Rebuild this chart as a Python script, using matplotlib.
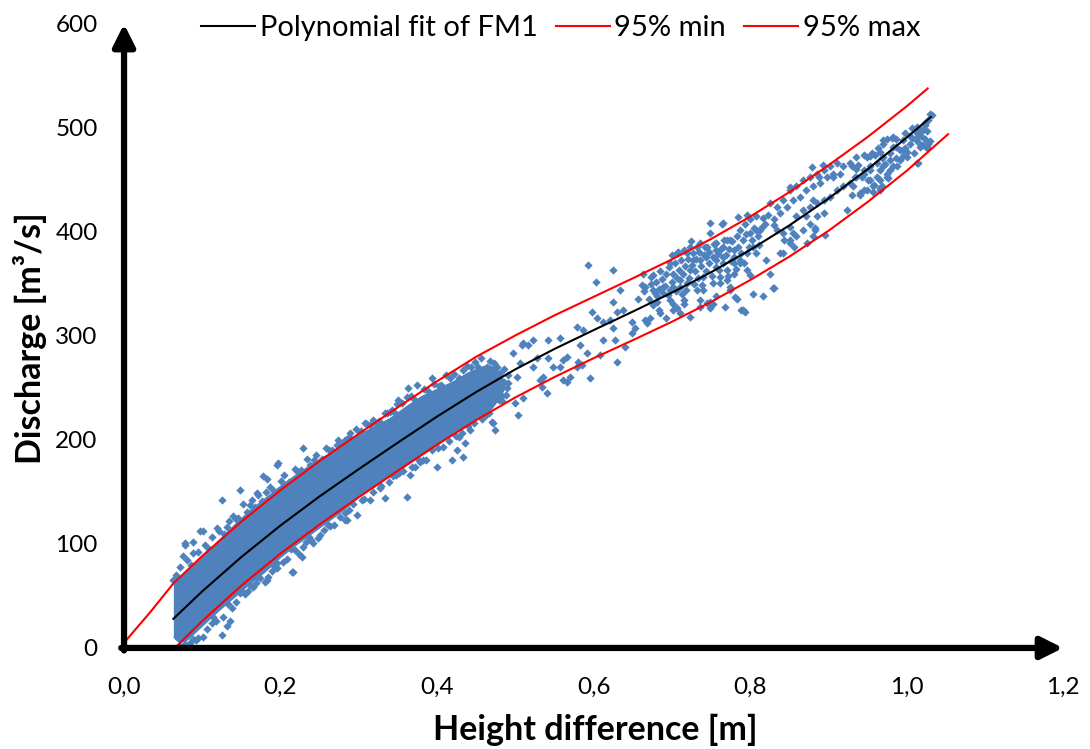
import numpy as np
import matplotlib
matplotlib.use("Agg")
import matplotlib.pyplot as plt

plt.rcParams['font.family'] = ['Lato', 'DejaVu Sans']

# axis ticks
x_ticks = [0.0, 0.2, 0.4, 0.6, 0.8, 1.0, 1.2]
x_tick_labels = ['0,0', '0,2', '0,4', '0,6', '0,8', '1,0', '1,2']
y_ticks = [0, 100, 200, 300, 400, 500, 600]

# polynomial fit of FM1
fit_x = [0.063, 0.10, 0.15, 0.20, 0.25, 0.30, 0.35, 0.40, 0.45, 0.50, 0.55,
         0.60, 0.65, 0.70, 0.75, 0.80, 0.85, 0.90, 0.95, 1.00, 1.031]
fit_y = [28, 54.5, 87.5, 117.8, 145.8, 172, 197.5, 222.5, 246.1, 267.9, 287.5,
         305.6, 323.4, 341.6, 361.2, 382.7, 406.2, 432, 460.2, 490.7, 510.5]

# 95% max band
max_x = [0.0, 0.033, 0.063, 0.10, 0.15, 0.20, 0.25, 0.30, 0.35, 0.40, 0.45, 0.50,
         0.55, 0.60, 0.65, 0.70, 0.75, 0.80, 0.85, 0.90, 0.95, 1.00, 1.027]
max_y = [5, 34, 62, 88.5, 121.5, 151.8, 179.8, 206, 231.5, 256.5, 280, 300.5,
         319.8, 337.6, 355.4, 373.6, 393.2, 414.7, 438.2, 464, 491.2, 520.7, 538]

# 95% min band
min_x = [0.065, 0.10, 0.15, 0.20, 0.25, 0.30, 0.35, 0.40, 0.45, 0.50, 0.55,
         0.60, 0.65, 0.70, 0.75, 0.80, 0.85, 0.90, 0.95, 1.00, 1.053]
min_y = [0, 26, 60, 90.8, 118.8, 145, 170.5, 195.5, 219.1, 240.9, 260.5,
         278.6, 295.9, 313.6, 332.7, 353.7, 376.2, 401, 428.7, 458.7, 494]

# saturated part of the low-flow FM1 cloud (x, lower edge, upper edge)
core_x = [0.063, 0.07, 0.08, 0.09, 0.10, 0.12, 0.14, 0.16, 0.18, 0.20, 0.22, 0.24, 0.26,
          0.28, 0.30, 0.32, 0.34, 0.36, 0.38, 0.40, 0.42, 0.44, 0.46, 0.47, 0.48, 0.487]
core_lo = [10, 5, 7, 14, 21, 35, 48, 61, 73, 87, 99, 110, 121,
           132, 145, 155, 165, 175, 185, 195, 205, 214, 224, 230, 240, 250]
core_hi = [62, 67, 75, 82, 89, 104, 119, 133, 145, 157, 168, 178, 187,
           197, 206, 214, 222, 233, 243, 250, 257, 266, 272, 272, 265, 256]

# individual FM1 measurements around the low-flow cloud
edge_pts = [
    (0.063, 65), (0.075, 88), (0.078, 99), (0.078, 101), (0.088, 91), (0.088, 102),
    (0.097, 112), (0.101, 112), (0.119, 115), (0.125, 142), (0.148, 152), (0.167, 136),
    (0.170, 149), (0.178, 165), (0.183, 162), (0.195, 176), (0.197, 178), (0.229, 192),
    (0.272, 195), (0.289, 207), (0.308, 216), (0.314, 214), (0.336, 226), (0.340, 227),
    (0.349, 235), (0.350, 238), (0.361, 241), (0.363, 250), (0.374, 253), (0.393, 260),
    (0.417, 260), (0.433, 267), (0.449, 275), (0.464, 270), (0.477, 270), (0.481, 264),
    (0.068, 11), (0.084, 5), (0.092, 8), (0.101, 11), (0.125, 12), (0.132, 21),
    (0.136, 26), (0.148, 53), (0.161, 61), (0.165, 59), (0.180, 63), (0.183, 65),
    (0.184, 68), (0.195, 77), (0.203, 83), (0.214, 73), (0.216, 73), (0.227, 87),
    (0.229, 97), (0.242, 101), (0.250, 109), (0.263, 117), (0.282, 123), (0.285, 123),
    (0.298, 128), (0.314, 142), (0.334, 144), (0.344, 165), (0.362, 145), (0.366, 166),
    (0.372, 174), (0.378, 179), (0.382, 181), (0.400, 174), (0.419, 181), (0.426, 190),
    (0.433, 184), (0.436, 197), (0.432, 207), (0.451, 224), (0.470, 217), (0.472, 216),
    (0.474, 210), (0.477, 251), (0.483, 237),
    (0.066, 70), (0.072, 78), (0.081, 85), (0.086, 80), (0.094, 92), (0.104, 99),
    (0.108, 95), (0.113, 107), (0.121, 112), (0.128, 110), (0.134, 122), (0.139, 127),
    (0.146, 125), (0.152, 138), (0.157, 131), (0.163, 142), (0.171, 147), (0.176, 141),
    (0.186, 155), (0.192, 151), (0.205, 166), (0.211, 160), (0.218, 172), (0.226, 171),
    (0.234, 182), (0.238, 176), (0.245, 186), (0.253, 182), (0.258, 192), (0.266, 190),
    (0.274, 200), (0.279, 196), (0.287, 203), (0.296, 211), (0.303, 209), (0.311, 215),
    (0.318, 219), (0.326, 218), (0.333, 226), (0.342, 229), (0.355, 236), (0.367, 242),
    (0.383, 249), (0.396, 254), (0.405, 253), (0.412, 262), (0.422, 263), (0.438, 271),
    (0.444, 270), (0.456, 279), (0.468, 276), (0.486, 268),
    (0.071, 2), (0.078, 4), (0.088, 9), (0.095, 10), (0.106, 18), (0.112, 24),
    (0.118, 26), (0.127, 30), (0.138, 38), (0.143, 44), (0.154, 52), (0.158, 55),
    (0.168, 62), (0.174, 67), (0.189, 74), (0.196, 82), (0.208, 86), (0.219, 94),
    (0.224, 90), (0.232, 102), (0.239, 104), (0.248, 106), (0.256, 113), (0.268, 118),
    (0.276, 126), (0.288, 133), (0.293, 138), (0.307, 143), (0.318, 150), (0.327, 154),
    (0.338, 160), (0.347, 166), (0.357, 170), (0.368, 174), (0.386, 181), (0.394, 190),
    (0.408, 193), (0.415, 199), (0.428, 203), (0.442, 210), (0.447, 216), (0.458, 220),
    (0.466, 226), (0.479, 238), (0.488, 243),
    (0.131, 116), (0.143, 124), (0.161, 137), (0.181, 150), (0.201, 161), (0.221, 170),
    (0.243, 181), (0.262, 190), (0.283, 200), (0.301, 208), (0.322, 216), (0.346, 226),
    (0.371, 239), (0.389, 247), (0.402, 252), (0.428, 260), (0.452, 270), (0.473, 274),
    (0.491, 262), (0.490, 250), (0.486, 256), (0.114, 30), (0.133, 42), (0.151, 55),
    (0.171, 68), (0.191, 79), (0.213, 95), (0.236, 107), (0.261, 118), (0.283, 130),
    (0.304, 142), (0.329, 156), (0.352, 168), (0.377, 181), (0.401, 192), (0.424, 204),
    (0.439, 213), (0.462, 224), (0.483, 242),
]

# sparse measurements between the two clouds
mid_pts = [
    (0.491, 255), (0.497, 284), (0.500, 236), (0.502, 261), (0.504, 224), (0.506, 274),
    (0.509, 291), (0.510, 240), (0.510, 293), (0.516, 291), (0.523, 270), (0.523, 296),
    (0.528, 279), (0.532, 258), (0.534, 251), (0.536, 261), (0.541, 245), (0.542, 279),
    (0.542, 296), (0.548, 270), (0.557, 270), (0.557, 298), (0.561, 258), (0.561, 277),
    (0.566, 256), (0.566, 280), (0.570, 261), (0.579, 270), (0.579, 309), (0.580, 275),
    (0.583, 291), (0.585, 272), (0.587, 306), (0.592, 284), (0.593, 368), (0.596, 260),
    (0.598, 323), (0.603, 352), (0.604, 317), (0.608, 282), (0.612, 296), (0.612, 313),
    (0.621, 315), (0.625, 308), (0.625, 333), (0.625, 363), (0.627, 296), (0.630, 275),
    (0.630, 323), (0.634, 344), (0.638, 325), (0.640, 289), (0.649, 303), (0.649, 313),
    (0.653, 308), (0.657, 336),
]

# high-flow measurements
high_pts = [
    (0.662, 349), (0.663, 360), (0.664, 343), (0.666, 315), (0.666, 347), (0.668, 312),
    (0.672, 317), (0.674, 357), (0.676, 330), (0.676, 344), (0.676, 359), (0.681, 333),
    (0.681, 338), (0.683, 325), (0.685, 322), (0.685, 362), (0.689, 341), (0.689, 347),
    (0.692, 317), (0.698, 335), (0.698, 344), (0.698, 370), (0.700, 378), (0.702, 325),
    (0.702, 331), (0.702, 347), (0.706, 327), (0.706, 380), (0.708, 381), (0.710, 347),
    (0.711, 322), (0.711, 354), (0.715, 331), (0.715, 335), (0.715, 383), (0.719, 351),
    (0.719, 380), (0.723, 318), (0.723, 363), (0.723, 386), (0.725, 391), (0.727, 373),
    (0.732, 344), (0.732, 386), (0.736, 328), (0.736, 335), (0.736, 373), (0.736, 389),
    (0.740, 344), (0.740, 357), (0.744, 376), (0.745, 332), (0.745, 386), (0.749, 327),
    (0.749, 333), (0.749, 399), (0.749, 409), (0.753, 331), (0.753, 351), (0.757, 338),
    (0.757, 373), (0.757, 383), (0.757, 389), (0.762, 351), (0.762, 357), (0.764, 408),
    (0.766, 376), (0.766, 386), (0.766, 409), (0.768, 328), (0.770, 354), (0.770, 363),
    (0.770, 392), (0.774, 344), (0.774, 347), (0.774, 392), (0.779, 360), (0.779, 370),
    (0.779, 383), (0.781, 337), (0.783, 336), (0.783, 396), (0.785, 414), (0.787, 370),
    (0.787, 373), (0.787, 402), (0.789, 325), (0.791, 325), (0.793, 408), (0.794, 323),
    (0.796, 363), (0.796, 380), (0.796, 416), (0.800, 359), (0.800, 399), (0.800, 412),
    (0.804, 340), (0.804, 386), (0.808, 380), (0.808, 402), (0.808, 415), (0.813, 402),
    (0.817, 338), (0.817, 413), (0.819, 408), (0.821, 373), (0.823, 416), (0.825, 428),
    (0.826, 360), (0.829, 346), (0.830, 346), (0.830, 407), (0.830, 412), (0.834, 402),
    (0.834, 424), (0.838, 380), (0.838, 418), (0.842, 380), (0.842, 399), (0.842, 431),
    (0.843, 392), (0.847, 424), (0.851, 389), (0.851, 392), (0.851, 405), (0.851, 440),
    (0.851, 443), (0.855, 399), (0.855, 431), (0.856, 386), (0.859, 396), (0.859, 415),
    (0.859, 444), (0.864, 434), (0.868, 402), (0.868, 421), (0.868, 450), (0.872, 415),
    (0.872, 440), (0.873, 389), (0.877, 408), (0.877, 424), (0.877, 453), (0.879, 462),
    (0.881, 396), (0.881, 431), (0.881, 444), (0.883, 402), (0.883, 404), (0.885, 415),
    (0.885, 428), (0.885, 456), (0.888, 453), (0.889, 447), (0.893, 464), (0.894, 418),
    (0.894, 431), (0.894, 460), (0.896, 397), (0.898, 453), (0.902, 434), (0.902, 463),
    (0.906, 453), (0.906, 456), (0.911, 440), (0.911, 466), (0.915, 456), (0.919, 444),
    (0.919, 463), (0.924, 421), (0.928, 447), (0.928, 466), (0.930, 436), (0.930, 463),
    (0.932, 444), (0.934, 453), (0.936, 453), (0.936, 461), (0.936, 472), (0.938, 464),
    (0.940, 437), (0.941, 436), (0.943, 453), (0.945, 440), (0.945, 456), (0.945, 460),
    (0.945, 474), (0.949, 440), (0.949, 472), (0.951, 450), (0.953, 450), (0.953, 460),
    (0.953, 463), (0.953, 473), (0.956, 476), (0.957, 438), (0.957, 444), (0.958, 445),
    (0.960, 474), (0.962, 453), (0.962, 466), (0.964, 481), (0.966, 440), (0.966, 442),
    (0.966, 450), (0.966, 460), (0.966, 477), (0.968, 444), (0.968, 471), (0.970, 463),
    (0.970, 472), (0.970, 485), (0.970, 488), (0.972, 465), (0.975, 453), (0.975, 456),
    (0.975, 489), (0.976, 452), (0.979, 460), (0.979, 469), (0.979, 476), (0.981, 490),
    (0.983, 463), (0.983, 482), (0.983, 491), (0.987, 471), (0.987, 482), (0.987, 489),
    (0.988, 463), (0.992, 469), (0.992, 479), (0.996, 473), (0.996, 479), (0.996, 488),
    (0.998, 481), (0.998, 495), (1.000, 472), (1.000, 477), (1.004, 485), (1.004, 492),
    (1.007, 490), (1.007, 500), (1.009, 476), (1.013, 466), (1.013, 487), (1.013, 495),
    (1.013, 501), (1.015, 466), (1.015, 492), (1.017, 482), (1.019, 484), (1.019, 492),
    (1.019, 498), (1.021, 484), (1.021, 498), (1.024, 489), (1.024, 503), (1.024, 505),
    (1.026, 481), (1.026, 482), (1.026, 497), (1.028, 485), (1.028, 508), (1.030, 487),
    (1.030, 513), (1.032, 512),
    (0.671, 336), (0.673, 350), (0.678, 341), (0.680, 352), (0.683, 345), (0.687, 355),
    (0.691, 348), (0.693, 360), (0.695, 339), (0.697, 366), (0.700, 352), (0.701, 360),
    (0.704, 370), (0.705, 343), (0.707, 356), (0.709, 363), (0.712, 373), (0.713, 340),
    (0.714, 360), (0.717, 367), (0.718, 344), (0.721, 374), (0.722, 356), (0.726, 368),
    (0.727, 380), (0.728, 350), (0.730, 362), (0.731, 374), (0.734, 356), (0.735, 381),
    (0.737, 367), (0.739, 349), (0.741, 378), (0.742, 386), (0.744, 362), (0.747, 370),
    (0.748, 381), (0.751, 358), (0.752, 376), (0.754, 388), (0.756, 366), (0.759, 379),
    (0.760, 363), (0.763, 384), (0.765, 370), (0.767, 392), (0.769, 378), (0.772, 358),
    (0.773, 384), (0.776, 372), (0.777, 391), (0.780, 376), (0.782, 364), (0.785, 386),
    (0.788, 380), (0.791, 392), (0.792, 370), (0.795, 398), (0.798, 386), (0.802, 392),
    (0.805, 404), (0.810, 396), (0.812, 387), (0.815, 405),
]

blue = '#4F81BD'

fig = plt.figure(figsize=(10.9, 7.49), dpi=100)
ax = fig.add_axes([0.1138, 0.1349, 0.8615, 0.8331])

ax.fill_between(core_x, core_lo, core_hi, color=blue, lw=0, zorder=1)

pts = np.array(edge_pts + mid_pts + high_pts)
ax.scatter(pts[:, 0], pts[:, 1], marker='D', s=18, color=blue, linewidths=0, zorder=2)

ax.plot(fit_x, fit_y, color='black', lw=1.5, zorder=4, label='Polynomial fit of FM1')
ax.plot(min_x, min_y, color='#FF0000', lw=1.5, zorder=3, label='95% min')
ax.plot(max_x, max_y, color='#FF0000', lw=1.5, zorder=3, label='95% max')

ax.set_xlim(0, 1.2)
ax.set_ylim(0, 600)
ax.set_xticks(x_ticks)
ax.set_xticklabels(x_tick_labels)
ax.set_yticks(y_ticks)
for s in ax.spines.values():
    s.set_visible(False)
ax.tick_params(axis='both', length=0, labelsize=17.5)
ax.tick_params(axis='x', pad=21)
ax.tick_params(axis='y', pad=19)

# arrow-style axes
arrow = dict(arrowstyle='-|>,head_length=0.6,head_width=0.3', lw=4.5, color='black',
             mutation_scale=22, shrinkA=0, shrinkB=0)
ax.annotate('', xy=(1.0, 0), xytext=(-0.003, 0), xycoords='axes fraction',
            arrowprops=arrow, annotation_clip=False)
ax.annotate('', xy=(0, 1.0), xytext=(0, -0.004), xycoords='axes fraction',
            arrowprops=arrow, annotation_clip=False)

ax.set_xlabel('Height difference [m]', fontsize=24.5, fontweight='bold')
ax.set_ylabel('Discharge [m³/s]', fontsize=24.5, fontweight='bold')
ax.xaxis.set_label_coords(0.5016, -0.106)
ax.yaxis.set_label_coords(-0.082, 0.497)

ax.legend(loc='center', bbox_to_anchor=(0.465, 0.994), ncol=3, frameon=False,
          fontsize=21, handlelength=1.85, handletextpad=0.17, columnspacing=0.6)

fig.savefig('out.png', dpi=100)
